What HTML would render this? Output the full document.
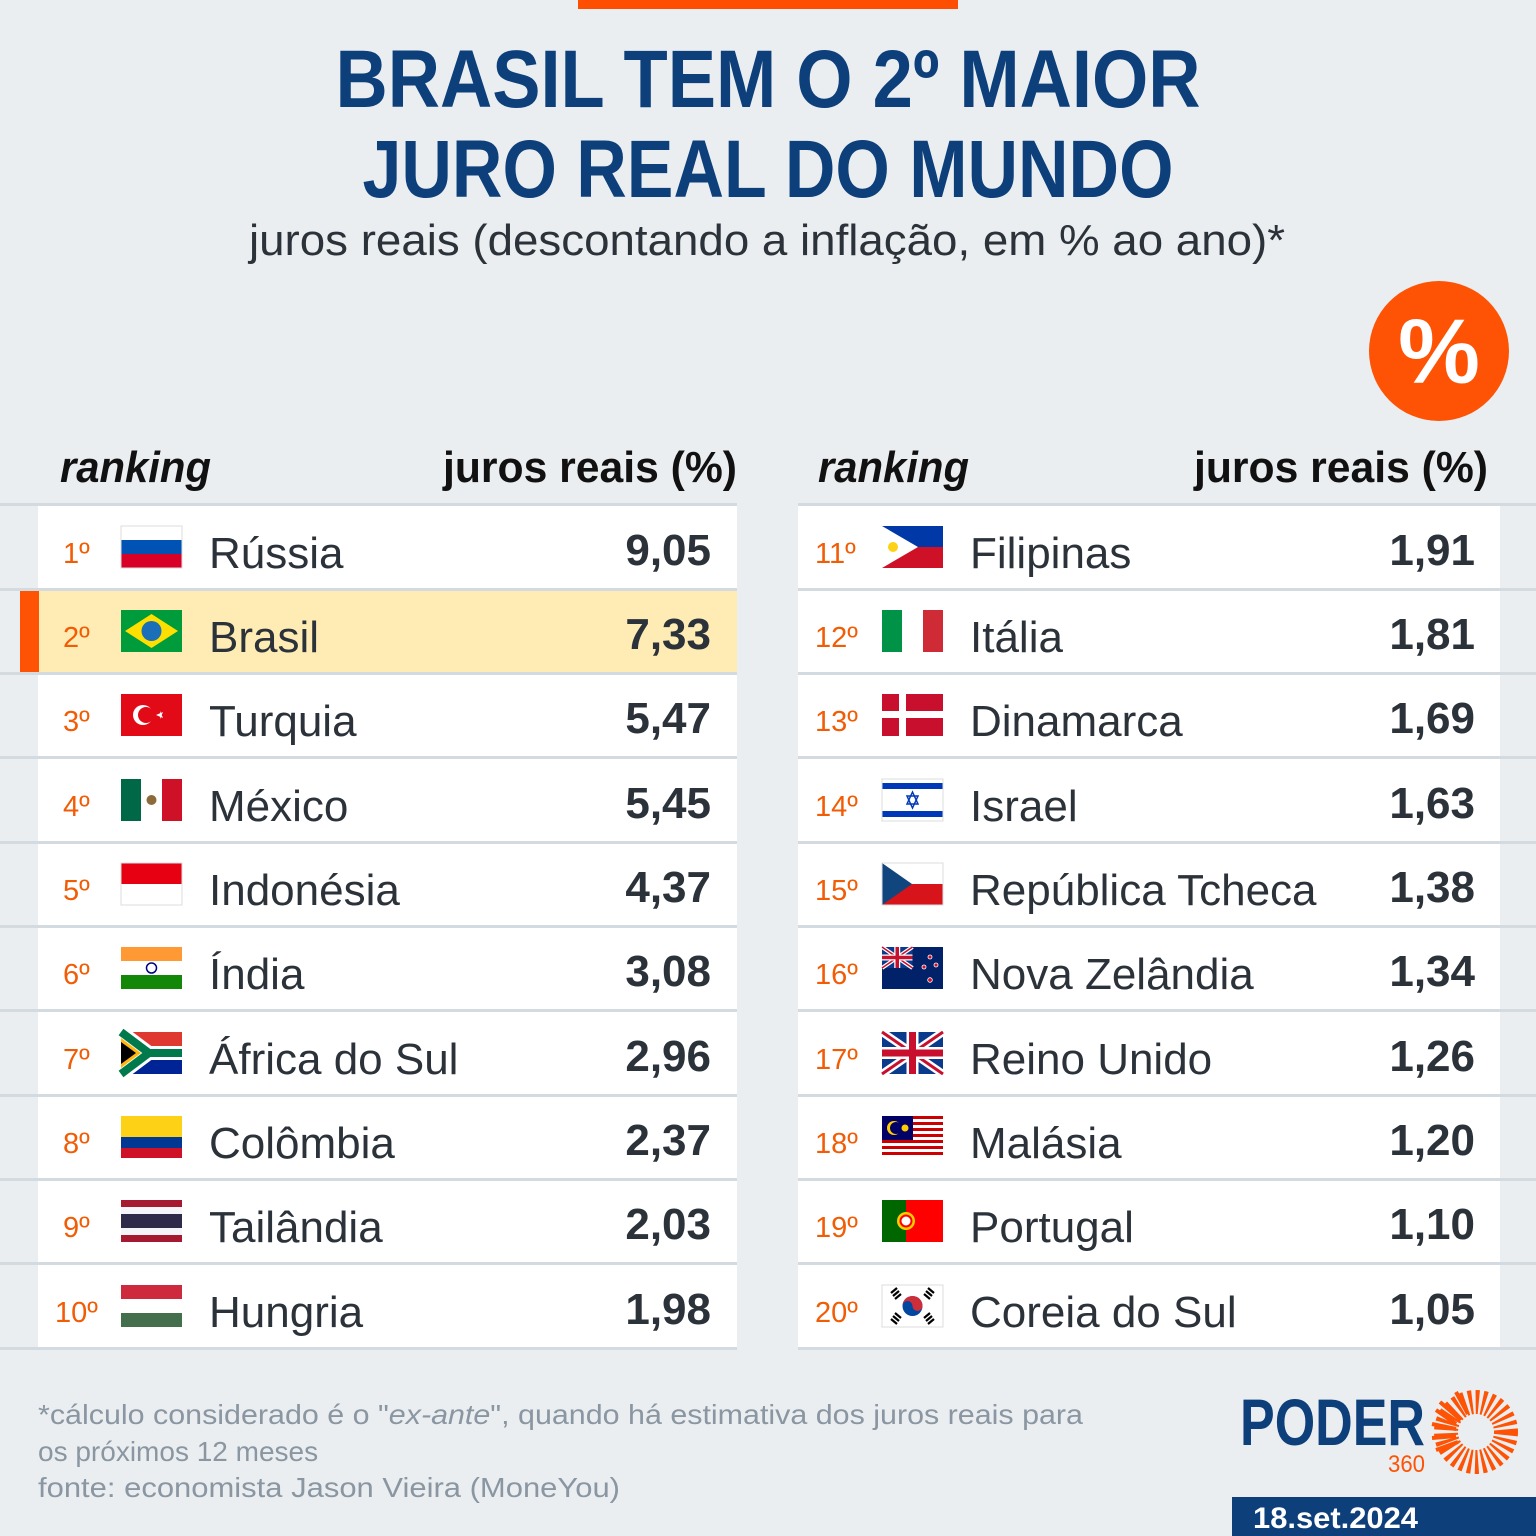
<!DOCTYPE html>
<html><head><meta charset="utf-8"><style>
html,body{margin:0;padding:0;background:#eaeef1;}
svg{display:block}
text{font-family:"Liberation Sans",sans-serif}
</style></head><body>
<svg width="1536" height="1536" viewBox="0 0 1536 1536" xmlns="http://www.w3.org/2000/svg">
<defs>
<g id="uj">
<rect width="61" height="42" fill="#0a3a8c"/>
<path d="M0,0L61,42M61,0L0,42" stroke="#fff" stroke-width="8"/>
<path d="M0,0L61,42M61,0L0,42" stroke="#c8102e" stroke-width="3"/>
<path d="M30.5,0V42M0,21H61" stroke="#fff" stroke-width="12"/>
<path d="M30.5,0V42M0,21H61" stroke="#c8102e" stroke-width="7"/>
</g>
</defs>
<rect width="1536" height="1536" fill="#eaeef1"/>
<rect x="578" y="0" width="380" height="9" fill="#fe4e00"/>
<text x="768" y="107" text-anchor="middle" font-size="82" font-weight="bold" fill="#0d3f7a" textLength="865" lengthAdjust="spacingAndGlyphs">BRASIL TEM O 2º MAIOR</text>
<text x="768" y="197" text-anchor="middle" font-size="82" font-weight="bold" fill="#0d3f7a" textLength="811" lengthAdjust="spacingAndGlyphs">JURO REAL DO MUNDO</text>
<text x="767" y="255" text-anchor="middle" font-size="44" fill="#2b3239" textLength="1036" lengthAdjust="spacingAndGlyphs">juros reais (descontando a inflação, em % ao ano)*</text>
<circle cx="1439" cy="351" r="70" fill="#fe5304"/>
<text x="1439" y="383" text-anchor="middle" font-size="92" font-weight="bold" fill="#fff">%</text>

<g font-size="44" font-weight="bold" fill="#111">
<text x="60" y="482" font-style="italic" textLength="151" lengthAdjust="spacingAndGlyphs">ranking</text>
<text x="443" y="482" textLength="294" lengthAdjust="spacingAndGlyphs">juros reais (%)</text>
<text x="818" y="482" font-style="italic" textLength="151" lengthAdjust="spacingAndGlyphs">ranking</text>
<text x="1194" y="482" textLength="294" lengthAdjust="spacingAndGlyphs">juros reais (%)</text>
</g>

<!-- cards -->
<rect x="38" y="505" width="699" height="843" fill="#fff"/>
<rect x="798" y="505" width="702" height="843" fill="#fff"/>
<rect x="38" y="591" width="699" height="82" fill="#feecb4"/>
<rect x="20" y="591" width="19" height="82" fill="#fe5304"/>
<g fill="#d3dbe0">
<rect x="0" y="503" width="737" height="3"/><rect x="798" y="503" width="738" height="3"/>
<rect x="0" y="588" width="737" height="3"/><rect x="798" y="588" width="738" height="3"/>
<rect x="0" y="672" width="737" height="3"/><rect x="798" y="672" width="738" height="3"/>
<rect x="0" y="756" width="737" height="3"/><rect x="798" y="756" width="738" height="3"/>
<rect x="0" y="841" width="737" height="3"/><rect x="798" y="841" width="738" height="3"/>
<rect x="0" y="925" width="737" height="3"/><rect x="798" y="925" width="738" height="3"/>
<rect x="0" y="1009" width="737" height="3"/><rect x="798" y="1009" width="738" height="3"/>
<rect x="0" y="1094" width="737" height="3"/><rect x="798" y="1094" width="738" height="3"/>
<rect x="0" y="1178" width="737" height="3"/><rect x="798" y="1178" width="738" height="3"/>
<rect x="0" y="1262" width="737" height="3"/><rect x="798" y="1262" width="738" height="3"/>
<rect x="0" y="1347" width="737" height="3"/><rect x="798" y="1347" width="738" height="3"/>
</g>

<!-- ranks -->
<g font-size="29" fill="#f25c05">
<text x="63" y="563">1º</text><text x="63" y="647">2º</text><text x="63" y="731">3º</text><text x="63" y="816">4º</text><text x="63" y="900">5º</text>
<text x="63" y="984">6º</text><text x="63" y="1069">7º</text><text x="63" y="1153">8º</text><text x="63" y="1237">9º</text><text x="55" y="1322">10º</text>
<text x="815" y="563">11º</text><text x="815" y="647">12º</text><text x="815" y="731">13º</text><text x="815" y="816">14º</text><text x="815" y="900">15º</text>
<text x="815" y="984">16º</text><text x="815" y="1069">17º</text><text x="815" y="1153">18º</text><text x="815" y="1237">19º</text><text x="815" y="1322">20º</text>
</g>
<!-- names -->
<g font-size="44" fill="#2b3239">
<text x="209" y="568">Rússia</text><text x="209" y="652">Brasil</text><text x="209" y="736">Turquia</text><text x="209" y="821">México</text><text x="209" y="905">Indonésia</text>
<text x="209" y="989">Índia</text><text x="209" y="1074">África do Sul</text><text x="209" y="1158">Colômbia</text><text x="209" y="1242">Tailândia</text><text x="209" y="1327">Hungria</text>
<text x="970" y="568">Filipinas</text><text x="970" y="652">Itália</text><text x="970" y="736">Dinamarca</text><text x="970" y="821">Israel</text><text x="970" y="905">República Tcheca</text>
<text x="970" y="989">Nova Zelândia</text><text x="970" y="1074">Reino Unido</text><text x="970" y="1158">Malásia</text><text x="970" y="1242">Portugal</text><text x="970" y="1327">Coreia do Sul</text>
</g>
<!-- values -->
<g font-size="44" font-weight="bold" fill="#2b3239" text-anchor="end">
<text x="711" y="565">9,05</text><text x="711" y="649">7,33</text><text x="711" y="733">5,47</text><text x="711" y="818">5,45</text><text x="711" y="902">4,37</text>
<text x="711" y="986">3,08</text><text x="711" y="1071">2,96</text><text x="711" y="1155">2,37</text><text x="711" y="1239">2,03</text><text x="711" y="1324">1,98</text>
<text x="1475" y="565">1,91</text><text x="1475" y="649">1,81</text><text x="1475" y="733">1,69</text><text x="1475" y="818">1,63</text><text x="1475" y="902">1,38</text>
<text x="1475" y="986">1,34</text><text x="1475" y="1071">1,26</text><text x="1475" y="1155">1,20</text><text x="1475" y="1239">1,10</text><text x="1475" y="1324">1,05</text>
</g>

<!-- left flags -->
<g transform="translate(121,526)"><rect width="61" height="14" fill="#fff"/><rect y="14" width="61" height="14" fill="#0052b4"/><rect y="28" width="61" height="14" fill="#d80027"/><rect width="61" height="42" fill="none" stroke="#ddd"/></g>
<g transform="translate(121,610)"><rect width="61" height="42" fill="#009b3a"/><polygon points="30.5,4 57,21 30.5,38 4,21" fill="#fedf00"/><circle cx="30.5" cy="21" r="10" fill="#1a6fb8"/></g>
<g transform="translate(121,694)"><rect width="61" height="42" fill="#e30a17"/><circle cx="22" cy="21" r="10" fill="#fff"/><circle cx="25" cy="21" r="8" fill="#e30a17"/><polygon points="35,21 42,18 39,25 39,17 42,24" fill="#fff"/></g>
<g transform="translate(121,779)"><rect width="20" height="42" fill="#006847"/><rect x="20" width="21" height="42" fill="#fff"/><rect x="41" width="20" height="42" fill="#ce1126"/><circle cx="30.5" cy="21" r="5" fill="#8c6a3a"/></g>
<g transform="translate(121,863)"><rect width="61" height="21" fill="#e70011"/><rect y="21" width="61" height="21" fill="#fff"/><rect width="61" height="42" fill="none" stroke="#ddd"/></g>
<g transform="translate(121,947)"><rect width="61" height="14" fill="#ff9933"/><rect y="14" width="61" height="14" fill="#fff"/><rect y="28" width="61" height="14" fill="#138808"/><circle cx="30.5" cy="21" r="5" fill="none" stroke="#000080" stroke-width="1.5"/></g>
<g transform="translate(121,1032)"><rect width="61" height="21" fill="#de3831"/><rect y="21" width="61" height="21" fill="#002395"/><path d="M0,0L28,21L0,42M28,21H61" stroke="#fff" stroke-width="14" fill="none"/><path d="M0,0L28,21L0,42M28,21H61" stroke="#007a4d" stroke-width="8" fill="none"/><polygon points="0,6 20,21 0,36" fill="#ffb612"/><polygon points="0,10 15,21 0,32" fill="#000"/></g>
<g transform="translate(121,1116)"><rect width="61" height="21" fill="#fcd116"/><rect y="21" width="61" height="11" fill="#003893"/><rect y="32" width="61" height="10" fill="#ce1126"/></g>
<g transform="translate(121,1200)"><rect width="61" height="42" fill="#a51931"/><rect y="7" width="61" height="28" fill="#f4f5f8"/><rect y="14" width="61" height="14" fill="#2d2a4a"/></g>
<g transform="translate(121,1285)"><rect width="61" height="14" fill="#cd2a3e"/><rect y="14" width="61" height="14" fill="#fff"/><rect y="28" width="61" height="14" fill="#436f4d"/></g>

<!-- right flags -->
<g transform="translate(882,526)"><rect width="61" height="21" fill="#0038a8"/><rect y="21" width="61" height="21" fill="#ce1126"/><polygon points="0,0 36,21 0,42" fill="#fff"/><circle cx="11" cy="21" r="5" fill="#fcd116"/></g>
<g transform="translate(882,610)"><rect width="20" height="42" fill="#009246"/><rect x="20" width="21" height="42" fill="#fff"/><rect x="41" width="20" height="42" fill="#ce2b37"/></g>
<g transform="translate(882,694)"><rect width="61" height="42" fill="#c8102e"/><rect x="17" width="7" height="42" fill="#fff"/><rect y="17" width="61" height="7" fill="#fff"/></g>
<g transform="translate(882,779)"><rect width="61" height="42" fill="#fff"/><rect y="4" width="61" height="6" fill="#0038b8"/><rect y="32" width="61" height="6" fill="#0038b8"/><polygon points="30.5,13 36,25 25,25" fill="none" stroke="#0038b8" stroke-width="1.5"/><polygon points="30.5,29 36,17 25,17" fill="none" stroke="#0038b8" stroke-width="1.5"/><rect width="61" height="42" fill="none" stroke="#ddd"/></g>
<g transform="translate(882,863)"><rect width="61" height="21" fill="#fff"/><rect y="21" width="61" height="21" fill="#d7141a"/><polygon points="0,0 30,21 0,42" fill="#11457e"/><rect width="61" height="42" fill="none" stroke="#ddd"/></g>
<g transform="translate(882,947)"><rect width="61" height="42" fill="#012169"/><g transform="scale(0.5)"><use href="#uj"/></g><g fill="#c8102e" stroke="#fff" stroke-width="0.8"><circle cx="48" cy="10" r="2"/><circle cx="42" cy="20" r="2"/><circle cx="54" cy="18" r="2"/><circle cx="48" cy="33" r="2.3"/></g></g>
<g transform="translate(882,1032)"><use href="#uj"/></g>
<g transform="translate(882,1116)"><rect width="61" height="42" fill="#fff"/><g fill="#cc0001"><rect y="0" width="61" height="3"/><rect y="6" width="61" height="3"/><rect y="12" width="61" height="3"/><rect y="18" width="61" height="3"/><rect y="24" width="61" height="3"/><rect y="30" width="61" height="3"/><rect y="36" width="61" height="3"/></g><rect width="31" height="24" fill="#010066"/><circle cx="12" cy="12" r="7" fill="#fc0"/><circle cx="14" cy="12" r="6" fill="#010066"/><circle cx="23" cy="12" r="3.5" fill="#fc0"/></g>
<g transform="translate(882,1200)"><rect width="24" height="42" fill="#006600"/><rect x="24" width="37" height="42" fill="#ff0000"/><circle cx="24" cy="21" r="9" fill="#ffcc00"/><circle cx="24" cy="21" r="5.5" fill="#fff" stroke="#ff0000" stroke-width="2"/></g>
<g transform="translate(882,1285)"><rect width="61" height="42" fill="#fff"/><rect width="61" height="42" fill="none" stroke="#ddd"/><circle cx="30.5" cy="21" r="10" fill="#0047a0"/><path d="M20.5,21A10,10 0 0 1 40.5,21A5,5 0 0 1 30.5,21A5,5 0 0 0 20.5,21Z" fill="#cd2e3a"/><g stroke="#000" stroke-width="2.2"><path d="M9,8L15,3M11,11L17,6M13,14L19,9"/><path d="M52,8L46,3M50,11L44,6M48,14L42,9"/><path d="M9,34L15,39M11,31L17,36M13,28L19,33"/><path d="M52,34L46,39M50,31L44,36M48,28L42,33"/></g></g>

<!-- footer -->
<g font-size="28" fill="#8a96a1">
<text x="38" y="1424" textLength="1045" lengthAdjust="spacingAndGlyphs">*cálculo considerado é o "<tspan font-style="italic">ex-ante</tspan>", quando há estimativa dos juros reais para</text>
<text x="38" y="1461">os próximos 12 meses</text>
<text x="38" y="1497" textLength="582" lengthAdjust="spacingAndGlyphs">fonte: economista Jason Vieira (MoneYou)</text>
</g>
<text x="1240" y="1445" font-size="66" font-weight="bold" fill="#0d3f7a" textLength="185" lengthAdjust="spacingAndGlyphs">PODER</text>
<text x="1388" y="1472" font-size="24" fill="#fe5304" textLength="37" lengthAdjust="spacingAndGlyphs">360</text>
<g transform="translate(1476,1432)" stroke="#fe5304" stroke-width="4">
<circle r="30" fill="none" stroke-width="24" stroke-dasharray="3.2 3.2"/>
<path d="M-20,-3L-44,-8M-20,4L-44,6M-18,10L-40,18M-15,-12L-36,-30M-8,-18L-20,-40M-20,-8L-40,-22" />
</g>
<rect x="1232" y="1497" width="304" height="39" fill="#0d3f7a"/>
<text x="1253" y="1528" font-size="30" font-weight="bold" fill="#fff" textLength="165" lengthAdjust="spacingAndGlyphs">18.set.2024</text>
</svg>
</body></html>
